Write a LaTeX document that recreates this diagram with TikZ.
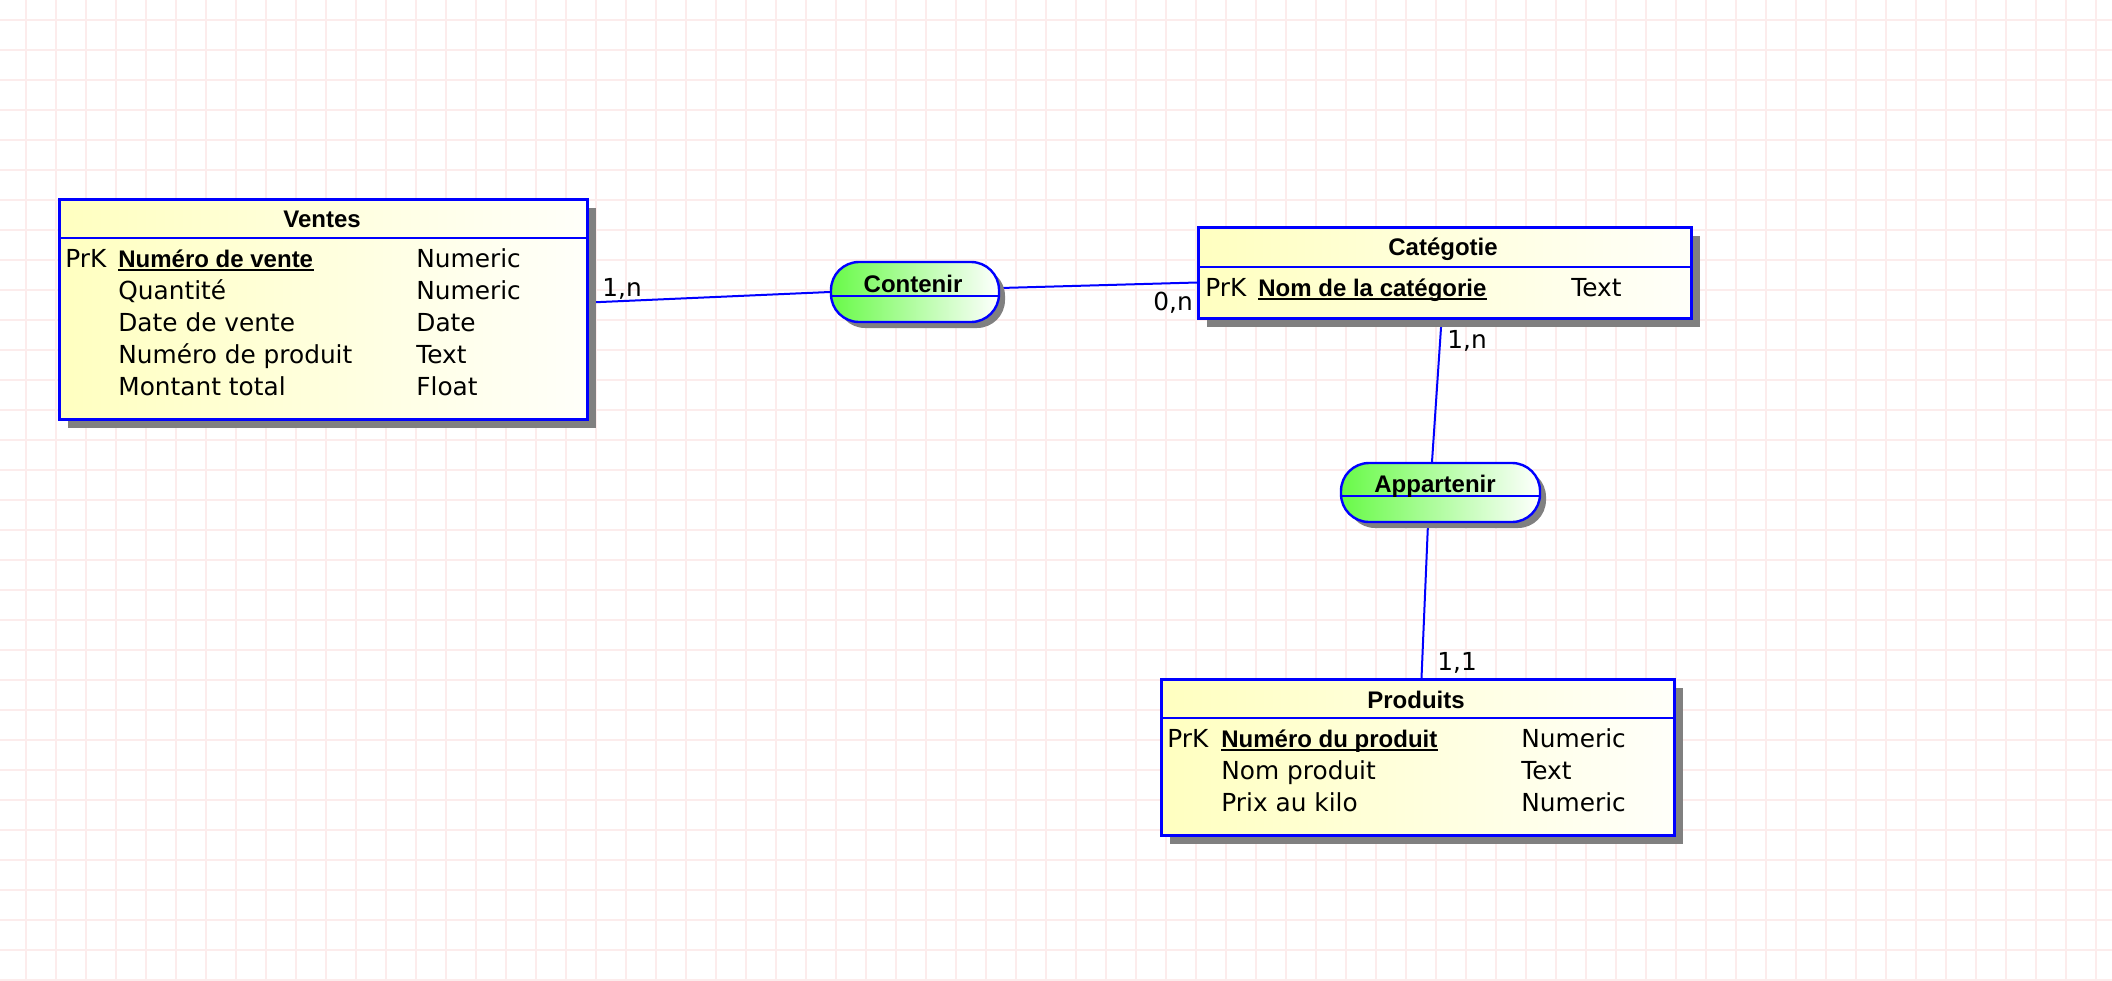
\documentclass[tikz,border=0pt]{standalone}
\usepackage{fontspec}
\setmainfont{DejaVu Sans}
\newfontfamily\hfont{Liberation Sans}
\usetikzlibrary{shadows,calc}
\definecolor{gridc}{RGB}{252,236,236}
\definecolor{erblue}{RGB}{0,0,255}
\definecolor{yel}{RGB}{255,255,192}
\definecolor{yelw}{RGB}{255,255,250}
\definecolor{grn}{RGB}{104,250,72}
\definecolor{shad}{RGB}{128,128,128}
\pgfdeclarelayer{gridlayer}
\pgfdeclarelayer{lineslayer}
\pgfsetlayers{gridlayer,lineslayer,main}
\begin{document}
\begin{tikzpicture}[x=0.5pt,y=-0.5pt,
  entity/.style={draw=erblue, line width=1.5pt, left color=yel, right color=yelw,
    inner sep=0pt, anchor=north west,
    drop shadow={shadow xshift=4pt, shadow yshift=-4pt, fill=shad, opacity=1}},
  relation/.style={draw=erblue, line width=1.2pt, rounded corners=14pt,
    left color=grn, right color=white, inner sep=0pt,
    drop shadow={shadow xshift=3pt, shadow yshift=-3pt, fill=shad, opacity=1}},
  sepline/.style={draw=erblue, line width=1.3pt},
  conn/.style={draw=erblue, line width=1pt},
  gridline/.style={draw=gridc, line width=0.9pt},
  txt/.style={inner sep=0pt, anchor=base west, font=\fontsize{12.4}{15}\selectfont},
  pk/.style={inner sep=0pt, anchor=base west, font=\fontsize{12}{15}\selectfont\hfont\bfseries},
  ttl/.style={inner sep=0pt, anchor=base, font=\fontsize{12}{15}\selectfont\hfont\bfseries},
  card/.style={inner sep=0pt, anchor=base west, font=\fontsize{12.4}{15}\selectfont},
  ul/.style={draw=black, line width=1pt}
]
\useasboundingbox (0,0) rectangle (2112,980);
\begin{pgfonlayer}{gridlayer}
  \fill[white] (0,0) rectangle (2112,980);
  \foreach \x in {26,56,...,2112} \draw[gridline] (\x,0) -- (\x,980);
  \foreach \y in {20,50,...,980} \draw[gridline] (0,\y) -- (2112,\y);
\end{pgfonlayer}

% ---------------- Ventes ----------------
\node[entity, minimum width=264pt, minimum height=110pt] (ventes) at (58,198) {};
\draw[sepline] ($(ventes.north west)+(0,40)$) -- ($(ventes.north east)+(0,40)$);
\node[ttl] (vtitle) at (322,227) {Ventes};
\node[txt] (vprk) at (65,267) {PrK};
\node[pk] (vk) at (118,267) {Numéro de vente};
\draw[ul] ([yshift=-1.6pt]vk.base west) -- ([yshift=-1.6pt]vk.base east);
\node[txt] (va2) at (118,299) {Quantité};
\node[txt] (va3) at (118,331) {Date de vente};
\node[txt] (va4) at (118,363) {Numéro de produit};
\node[txt] (va5) at (118,395) {Montant total};
\node[txt] (vt1) at (416,267) {Numeric};
\node[txt] (vt2) at (416,299) {Numeric};
\node[txt] (vt3) at (416,331) {Date};
\node[txt] (vt4) at (416,363) {Text};
\node[txt] (vt5) at (416,395) {Float};

% ---------------- Categotie ----------------
\node[entity, minimum width=246.5pt, minimum height=45.5pt] (cat) at (1197,226) {};
\draw[sepline] ($(cat.north west)+(0,41)$) -- ($(cat.north east)+(0,41)$);
\node[ttl] (ctitle) at (1443,255) {Catégotie};
\node[txt] (cprk) at (1205,296) {PrK};
\node[pk] (ck) at (1258,296) {Nom de la catégorie};
\draw[ul] ([yshift=-1.6pt]ck.base west) -- ([yshift=-1.6pt]ck.base east);
\node[txt] (ct1) at (1571,296) {Text};

% ---------------- Produits ----------------
\node[entity, minimum width=256.5pt, minimum height=78pt] (prod) at (1160,678) {};
\draw[sepline] ($(prod.north west)+(0,40)$) -- ($(prod.north east)+(0,40)$);
\node[ttl] (ptitle) at (1416,708) {Produits};
\node[txt] (pprk) at (1167,747) {PrK};
\node[pk] (pk1) at (1221,747) {Numéro du produit};
\draw[ul] ([yshift=-1.6pt]pk1.base west) -- ([yshift=-1.6pt]pk1.base east);
\node[txt] (pa2) at (1221,779) {Nom produit};
\node[txt] (pa3) at (1221,811) {Prix au kilo};
\node[txt] (pt1) at (1521,747) {Numeric};
\node[txt] (pt2) at (1521,779) {Text};
\node[txt] (pt3) at (1521,811) {Numeric};

% ---------------- Relations ----------------
\node[relation, minimum width=84pt, minimum height=30pt] (contenir) at (915,292) {};
\draw[sepline, line width=1.1pt] ($(contenir.west)+(0,4)$) -- ($(contenir.east)+(0,4)$);
\node[ttl] (contxt) at (913,292) {Contenir};

\node[relation, minimum width=99.5pt, minimum height=29.5pt] (app) at (1440.5,492.5) {};
\draw[sepline, line width=1.1pt] ($(app.west)+(0,3.5)$) -- ($(app.east)+(0,3.5)$);
\node[ttl] (apptxt) at (1435,492) {Appartenir};

% ---------------- Connectors ----------------
\begin{pgfonlayer}{lineslayer}
  \draw[conn] ([yshift=3.5pt]ventes.east) -- (contenir.west);
  \draw[conn] ([yshift=2pt]contenir.east) -- ([yshift=-4.75pt]cat.west);
  \draw[conn] ([xshift=-1.75pt]cat.south) -- ([xshift=-4.25pt]app.north);
  \draw[conn] ([xshift=-6.25pt]app.south) -- ([xshift=1.75pt]prod.north);
\end{pgfonlayer}

% ---------------- Cardinalities ----------------
\node[card] (c1) at (602,296) {1,n};
\node[card] (c2) at (1153,310) {0,n};
\node[card] (c3) at (1447,348) {1,n};
\node[card] (c4) at (1437,670) {1,1};
\end{tikzpicture}
\end{document}
